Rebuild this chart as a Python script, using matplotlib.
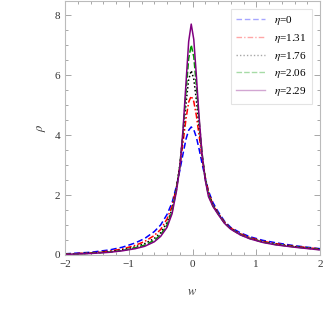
import matplotlib
matplotlib.use("Agg")
import matplotlib.pyplot as plt
from matplotlib.ticker import MultipleLocator
from matplotlib.lines import Line2D

plt.rcParams['font.family'] = ['Liberation Serif', 'DejaVu Serif']
plt.rcParams['mathtext.fontset'] = 'stix'

w = [-2.0, -1.6, -1.3, -1.1, -0.9, -0.75, -0.6, -0.5, -0.4, -0.32, -0.25, -0.2, -0.15, -0.1, -0.06, -0.02,
     0.02, 0.06, 0.1, 0.15, 0.2, 0.25, 0.32, 0.4, 0.5, 0.6, 0.75, 0.9, 1.1, 1.3, 1.6, 2.0]

rho_eta0 = [0.04, 0.09, 0.17, 0.26, 0.40, 0.55, 0.78, 1.00, 1.35, 1.75, 2.31, 2.81, 3.36, 3.88, 4.16, 4.27,
            4.18, 3.93, 3.57, 3.05, 2.57, 2.14, 1.75, 1.45, 1.13, 0.92, 0.74, 0.61, 0.49, 0.41, 0.31, 0.21]
rho_eta131 = [0.03, 0.07, 0.13, 0.20, 0.32, 0.45, 0.65, 0.85, 1.20, 1.63, 2.28, 2.93, 3.73, 4.57, 5.10, 5.30,
              5.12, 4.66, 4.04, 3.26, 2.60, 2.10, 1.68, 1.40, 1.10, 0.90, 0.71, 0.58, 0.46, 0.38, 0.29, 0.20]
rho_eta176 = [0.025, 0.06, 0.11, 0.17, 0.27, 0.38, 0.55, 0.74, 1.08, 1.52, 2.25, 2.99, 3.96, 5.09, 5.85, 6.15,
              5.87, 5.18, 4.33, 3.33, 2.54, 2.05, 1.66, 1.39, 1.08, 0.88, 0.69, 0.56, 0.44, 0.36, 0.28, 0.19]
rho_eta206 = [0.02, 0.055, 0.10, 0.15, 0.24, 0.33, 0.49, 0.67, 1.00, 1.45, 2.20, 2.94, 4.07, 5.50, 6.55, 7.00,
              6.61, 5.67, 4.58, 3.40, 2.53, 2.00, 1.64, 1.38, 1.07, 0.87, 0.68, 0.55, 0.43, 0.35, 0.27, 0.18]
rho_eta229 = [0.02, 0.05, 0.09, 0.14, 0.21, 0.29, 0.44, 0.62, 0.92, 1.38, 2.15, 2.90, 4.14, 5.80, 7.12, 7.70,
              7.19, 6.00, 4.70, 3.37, 2.50, 1.95, 1.62, 1.36, 1.06, 0.86, 0.67, 0.54, 0.42, 0.34, 0.26, 0.17]

labels = [r'$\eta$=0', r'$\eta$=1.31', r'$\eta$=1.76', r'$\eta$=2.06', r'$\eta$=2.29']
series = [rho_eta0, rho_eta131, rho_eta176, rho_eta206, rho_eta229]
colors = ['#0000ff', '#ff0000', '#000000', '#009900', '#800080']
styles = [(0, (4, 2)), (0, (4, 1.5, 1, 1.5)), (0, (1, 1.5)), (0, (4, 1.5)), '-']

fig = plt.figure(figsize=(3.27, 3.27), dpi=100)
ax = fig.add_axes([65/327, 72/327, 255/327, 254/327])

for y, c, ls in zip(series, colors, styles):
    ax.plot(w, y, color=c, ls=ls, lw=1.1)

ax.set_xlim(-2, 2)
ax.set_ylim(0, 8.47)
ax.xaxis.set_major_locator(MultipleLocator(1))
ax.xaxis.set_minor_locator(MultipleLocator(0.2))
ax.yaxis.set_major_locator(MultipleLocator(2))
ax.yaxis.set_minor_locator(MultipleLocator(0.5))
ax.tick_params(which='both', direction='in', top=True, right=True, colors='#999999',
               labelcolor='#333333', labelsize=8, width=0.6)
ax.tick_params(which='major', length=4)
ax.tick_params(which='minor', length=2)
ax.set_xticks([-2, -1, 0, 1, 2])
ax.set_xticklabels(['\u22122', '\u22121', '0', '1', '2'])
for s in ax.spines.values():
    s.set_color('#bbbbbb')
    s.set_linewidth(0.8)

ax.set_xlabel(r'$w$', fontsize=9, color='#333333', labelpad=12)
ax.set_ylabel(r'$\rho$', fontsize=9, color='#333333', labelpad=5)

handles = [Line2D([], [], color=c, ls=ls, lw=1.0, alpha=0.35) for c, ls in zip(colors, styles)]
leg = ax.legend(handles, labels, loc='upper right', fontsize=8, frameon=True, fancybox=False,
                edgecolor='#dddddd', handlelength=2.6, borderaxespad=0.7, labelspacing=0.42,
                borderpad=0.5)
leg.get_frame().set_linewidth(0.8)

fig.savefig('out.png', dpi=100)
